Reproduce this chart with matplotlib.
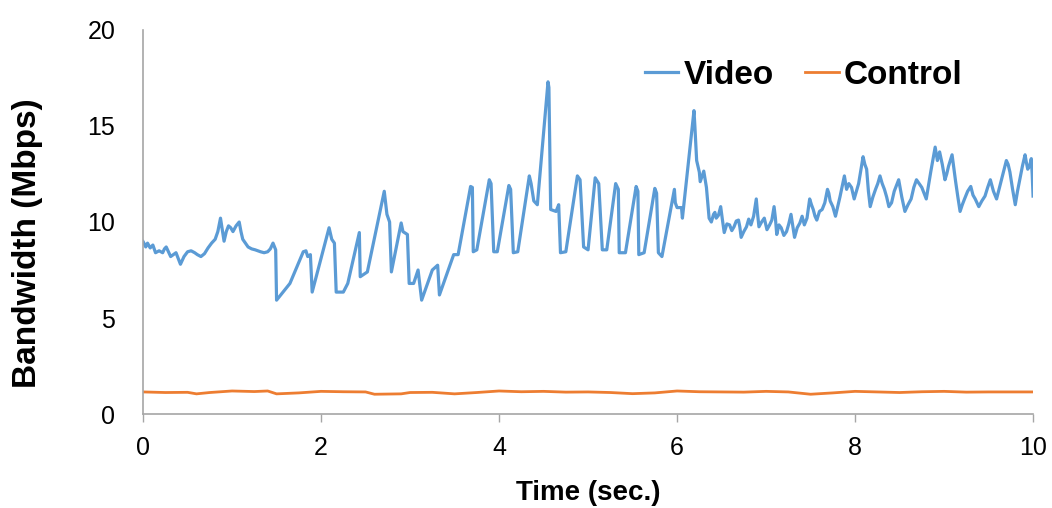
import matplotlib
matplotlib.use("Agg")
import matplotlib.pyplot as plt

# Video stream bandwidth (Mbps) over time (s), row for row
video_time = [
    0.00, 0.015, 0.03, 0.05, 0.08, 0.11, 0.14, 0.18, 0.22, 0.24,
    0.26, 0.285, 0.31, 0.34, 0.37, 0.395, 0.42, 0.46, 0.50, 0.54,
    0.58, 0.61, 0.65, 0.69, 0.73, 0.77, 0.81, 0.84, 0.87, 0.89,
    0.91, 0.935, 0.96, 0.985, 1.01, 1.045, 1.08, 1.10, 1.12, 1.15,
    1.18, 1.22, 1.26, 1.29, 1.32, 1.36, 1.40, 1.43, 1.46, 1.49,
    1.50, 1.65, 1.80, 1.83, 1.85, 1.88, 1.90, 2.09, 2.12, 2.15,
    2.17, 2.25, 2.30, 2.43, 2.44, 2.52, 2.71, 2.74, 2.77, 2.79,
    2.90, 2.92, 2.97, 2.99, 3.04, 3.09, 3.13, 3.25, 3.31, 3.33,
    3.49, 3.54, 3.68, 3.70, 3.71, 3.75, 3.89, 3.91, 3.94, 3.98,
    4.11, 4.13, 4.16, 4.21, 4.34, 4.36, 4.39, 4.43, 4.55, 4.56,
    4.58, 4.64, 4.67, 4.69, 4.75, 4.88, 4.91, 4.95, 5.00, 5.08,
    5.12, 5.16, 5.21, 5.31, 5.34, 5.35, 5.42, 5.54, 5.56, 5.57,
    5.63, 5.75, 5.77, 5.79, 5.83, 5.97, 5.98, 6.00, 6.05, 6.06,
    6.19, 6.20, 6.22, 6.25, 6.26, 6.30, 6.33, 6.36, 6.385, 6.41,
    6.425, 6.44, 6.465, 6.49, 6.51, 6.53, 6.56, 6.59, 6.615, 6.64,
    6.665, 6.69, 6.705, 6.72, 6.75, 6.78, 6.805, 6.83, 6.86, 6.89,
    6.905, 6.92, 6.95, 6.98, 7.01, 7.04, 7.065, 7.09, 7.105, 7.12,
    7.145, 7.17, 7.20, 7.23, 7.255, 7.28, 7.30, 7.32, 7.35, 7.38,
    7.405, 7.43, 7.46, 7.49, 7.51, 7.53, 7.55, 7.57, 7.60, 7.63,
    7.66, 7.69, 7.705, 7.72, 7.75, 7.78, 7.83, 7.88, 7.905, 7.93,
    7.96, 7.99, 8.04, 8.09, 8.11, 8.13, 8.15, 8.17, 8.20, 8.23,
    8.255, 8.28, 8.305, 8.33, 8.355, 8.38, 8.41, 8.44, 8.465, 8.49,
    8.525, 8.56, 8.595, 8.63, 8.66, 8.69, 8.72, 8.75, 8.775, 8.80,
    8.85, 8.90, 8.925, 8.95, 8.98, 9.01, 9.03, 9.05, 9.07, 9.09,
    9.11, 9.13, 9.155, 9.18, 9.205, 9.23, 9.265, 9.30, 9.325, 9.35,
    9.37, 9.39, 9.425, 9.46, 9.49, 9.52, 9.555, 9.59, 9.65, 9.70,
    9.72, 9.74, 9.77, 9.80, 9.825, 9.85, 9.88, 9.91, 9.925, 9.94,
    9.96, 9.98, 9.99, 10.00,
]
video_bw = [
    8.98, 8.85, 8.7, 8.9, 8.65, 8.8, 8.4, 8.5, 8.4, 8.6,
    8.7, 8.45, 8.2, 8.3, 8.4, 8.1, 7.8, 8.2, 8.45, 8.5,
    8.4, 8.3, 8.2, 8.35, 8.65, 8.9, 9.1, 9.5, 10.2, 9.6,
    9.0, 9.5, 9.8, 9.7, 9.5, 9.8, 10.0, 9.5, 9.1, 8.9,
    8.7, 8.6, 8.55, 8.5, 8.45, 8.4, 8.45, 8.6, 8.9, 8.55,
    5.93, 6.8, 8.45, 8.5, 8.2, 8.3, 6.35, 9.7, 9.1, 8.9,
    6.35, 6.35, 6.8, 9.45, 7.15, 7.4, 11.6, 10.4, 10.0, 7.4,
    9.95, 9.5, 9.35, 6.8, 6.8, 7.5, 5.93, 7.5, 7.75, 6.2,
    8.3, 8.3, 11.85, 11.8, 8.45, 8.55, 12.2, 12.0, 8.45, 8.45,
    11.9, 11.7, 8.4, 8.45, 12.4, 12.0, 11.1, 10.9, 17.3, 17.0,
    10.65, 10.55, 10.9, 8.4, 8.45, 12.4, 12.2, 8.7, 8.55, 12.3,
    12.0, 8.55, 8.55, 12.0, 11.7, 8.4, 8.4, 11.85, 11.6, 8.3,
    8.4, 11.75, 11.5, 8.4, 8.2, 11.7, 11.0, 10.75, 10.75, 10.2,
    15.8, 15.0, 13.2, 12.6, 12.1, 12.65, 11.8, 10.2, 10.0, 10.4,
    10.5, 10.2, 10.35, 10.8, 10.1, 9.45, 9.9, 9.85, 9.55, 9.75,
    10.05, 10.1, 9.75, 9.2, 9.5, 9.75, 10.15, 9.85, 10.3, 11.2,
    10.4, 9.75, 10.0, 10.2, 9.6, 9.85, 10.1, 10.8, 10.2, 9.35,
    9.85, 9.7, 9.3, 9.5, 9.9, 10.4, 9.8, 9.2, 9.7, 9.95,
    10.3, 9.85, 10.2, 11.2, 10.9, 10.65, 10.3, 10.1, 10.55, 10.65,
    11.0, 11.7, 11.5, 11.1, 10.8, 10.3, 11.3, 12.4, 11.7, 12.0,
    11.8, 11.2, 12.0, 13.4, 13.0, 12.75, 11.6, 10.8, 11.3, 11.7,
    12.0, 12.4, 12.0, 11.7, 11.3, 10.8, 11.0, 11.6, 11.9, 12.2,
    11.3, 10.55, 10.9, 11.2, 11.8, 12.2, 12.0, 11.8, 11.5, 11.2,
    12.6, 13.9, 13.2, 13.65, 13.0, 12.2, 12.5, 12.9, 13.2, 13.5,
    12.8, 12.1, 11.3, 10.55, 10.9, 11.2, 11.6, 11.85, 11.4, 11.2,
    11.0, 10.8, 11.1, 11.35, 11.8, 12.2, 11.6, 11.2, 12.3, 13.2,
    13.0, 12.6, 11.7, 10.9, 11.6, 12.2, 12.9, 13.5, 13.1, 12.75,
    12.9, 13.3, 12.5, 11.35,
]

# Control channel bandwidth (Mbps)
control_time = [
    0.0, 0.25, 0.5, 0.6, 0.75, 1.0, 1.25, 1.4, 1.5, 1.75, 2.0, 2.25,
    2.5, 2.6, 2.9, 3.0, 3.25, 3.5, 3.75, 4.0, 4.25, 4.5, 4.75, 5.0,
    5.25, 5.5, 5.75, 6.0, 6.25, 6.5, 6.75, 7.0, 7.25, 7.5, 7.75, 8.0,
    8.25, 8.5, 8.75, 9.0, 9.25, 9.5, 9.75, 10.0,
]
control_bw = [
    1.15, 1.12, 1.13, 1.05, 1.12, 1.2, 1.17, 1.2, 1.05, 1.1, 1.18, 1.16,
    1.15, 1.03, 1.05, 1.12, 1.13, 1.05, 1.12, 1.2, 1.16, 1.18, 1.14, 1.15,
    1.12, 1.06, 1.1, 1.2, 1.16, 1.15, 1.14, 1.18, 1.15, 1.03, 1.1, 1.18,
    1.15, 1.12, 1.16, 1.18, 1.14, 1.15, 1.15, 1.15,
]

x_ticks = [0, 2, 4, 6, 8, 10]
y_ticks = [0, 5, 10, 15, 20]

plt.rcParams['font.family'] = ['Liberation Sans', 'DejaVu Sans']

fig = plt.figure(figsize=(10.52, 5.08), dpi=100)
ax = fig.add_axes([0.136, 0.185, 0.846, 0.756])

ax.plot(video_time, video_bw, color='#5B9BD5', linewidth=2.3, label='Video')
ax.plot(control_time, control_bw, color='#ED7D31', linewidth=2.0, label='Control')

ax.set_xlim(0, 10)
ax.set_ylim(0, 20)
ax.set_xticks(x_ticks)
ax.set_yticks(y_ticks)
ax.tick_params(axis='x', direction='out', length=6, width=1, color='#A6A6A6',
               labelsize=18, pad=10)
ax.tick_params(axis='y', length=0, labelsize=18, pad=20)

for side in ('top', 'right'):
    ax.spines[side].set_visible(False)
for side in ('left', 'bottom'):
    ax.spines[side].set_color('#A6A6A6')
    ax.spines[side].set_linewidth(1.2)

ax.set_xlabel('Time (sec.)', fontsize=20, fontweight='bold', labelpad=14)
ax.set_ylabel('Bandwidth (Mbps)', fontsize=24, fontweight='bold')
ax.yaxis.set_label_coords(-0.113, 0.445)

leg = ax.legend(loc='center left', bbox_to_anchor=(645 / 1052, 1 - 75 / 508),
                bbox_transform=fig.transFigure, ncol=2, frameon=False,
                handlelength=1.0, handletextpad=0.15, columnspacing=0.95,
                borderpad=0, borderaxespad=0,
                prop={'size': 24, 'weight': 'bold'})

fig.savefig('out.png', dpi=100)
